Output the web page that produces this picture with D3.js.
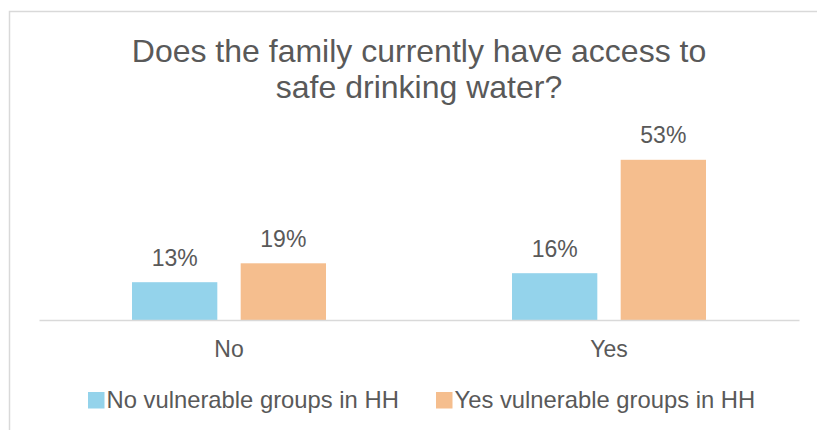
<!DOCTYPE html>
<html><head><meta charset="utf-8">
<script src="https://cdn.jsdelivr.net/npm/d3@7"></script>
<style>html,body{margin:0;padding:0;background:#fff;overflow:hidden;}svg{display:block;font-family:"Liberation Sans",Arial,sans-serif;}</style>
</head><body>
<svg id="chart" width="817" height="430"></svg>
<script>
const categories = ["No", "Yes"];
const seriesNames = ["No vulnerable groups in HH", "Yes vulnerable groups in HH"];
const noVulnerable = [0.126, 0.156];
const yesVulnerable = [0.189, 0.534];
const titleLines = ["Does the family currently have access to", "safe drinking water?"];
const colors = ["#94D3EB", "#F5BE8E"];
const textColor = "#595959";

const svg = d3.select("#chart");
// outer border: only top and left edges are visible in the frame
svg.append("path").attr("d", "M9.5,430 L9.5,11.5 L817,11.5")
  .attr("fill", "none").attr("stroke", "#D9D9D9").attr("stroke-width", 1.5);

const title = svg.append("text").attr("text-anchor", "middle").attr("fill", textColor)
  .style("font-size", "32px");
titleLines.forEach((t, i) => title.append("tspan").attr("x", 419).attr("y", 61.5 + i * 36).text(t));

const baseY = 320;
const x0 = d3.scaleBand().domain(categories).range([39, 799]).paddingInner(0).paddingOuter(0);
const groupPad = 93;
const x1 = d3.scaleBand().domain(seriesNames).range([groupPad, x0.bandwidth() - groupPad]).paddingInner(0.215);
const y = d3.scaleLinear().domain([0, 0.6]).range([baseY, baseY - 180]);

const data = categories.map((c, i) => ({cat: c, vals: [noVulnerable[i], yesVulnerable[i]]}));
const fmt = d3.format(".0%");

const g = svg.append("g");
const groups = g.selectAll("g.grp").data(data).join("g").attr("transform", d => `translate(${x0(d.cat)},0)`);
groups.selectAll("rect").data(d => d.vals.map((v, k) => ({v, k}))).join("rect")
  .attr("x", d => x1(seriesNames[d.k])).attr("width", x1.bandwidth())
  .attr("y", d => y(d.v)).attr("height", d => baseY - y(d.v))
  .attr("fill", d => colors[d.k]);
groups.selectAll("text").data(d => d.vals.map((v, k) => ({v, k}))).join("text")
  .attr("x", d => x1(seriesNames[d.k]) + x1.bandwidth() / 2)
  .attr("y", d => y(d.v) - 16.6).attr("text-anchor", "middle")
  .attr("fill", textColor).style("font-size", "23px").text(d => fmt(d.v));

const xAxis = svg.append("g").attr("transform", `translate(0,${baseY})`)
  .call(d3.axisBottom(x0).tickSize(0).tickPadding(0));
xAxis.select(".domain").attr("stroke", "#D9D9D9").attr("stroke-width", 1.5);
xAxis.selectAll(".tick text").attr("dy", null).attr("y", 36.7).attr("fill", textColor)
  .style("font-size", "23px").style("font-family", "'Liberation Sans',Arial,sans-serif");

// legend
const legendX = [88, 436];
const leg = svg.append("g");
seriesNames.forEach((s, i) => {
  leg.append("rect").attr("x", legendX[i]).attr("y", 392).attr("width", 16.5).attr("height", 16.5).attr("fill", colors[i]);
  leg.append("text").attr("x", legendX[i] + 18.5).attr("y", 408.3).attr("fill", textColor)
    .style("font-size", "23.8px").text(s);
});
</script>
</body></html>
